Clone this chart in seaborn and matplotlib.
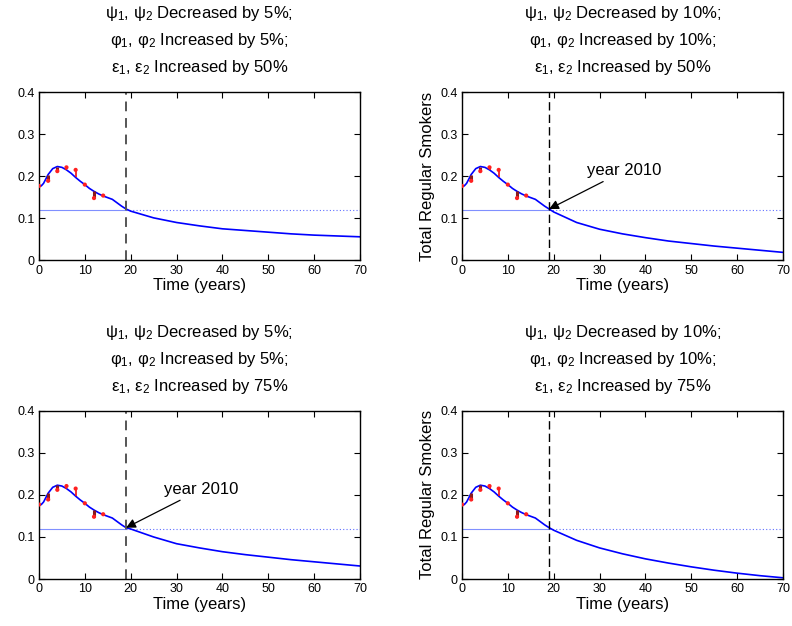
import numpy as np
import matplotlib
matplotlib.use("Agg")
import matplotlib.pyplot as plt
import seaborn as sns

# observed data (red points) and the common fitted part up to 2010
t_data = [0, 2, 4, 6, 8, 10, 12, 14]
y_data = [0.177, 0.189, 0.212, 0.221, 0.215, 0.180, 0.148, 0.154]

t_fit = [0, 0.5, 1, 2, 3, 4, 5, 6, 7, 8, 9, 10, 11, 12, 13, 14, 15, 16, 17, 18, 19]
y_fit = [0.175, 0.177, 0.183, 0.204, 0.218, 0.223, 0.221, 0.215, 0.207, 0.197, 0.188,
         0.180, 0.171, 0.164, 0.158, 0.153, 0.149, 0.145, 0.137, 0.129, 0.122]

# projections after 2010, one per scenario
t_proj = [20, 25, 30, 35, 40, 45, 50, 55, 60, 65, 70]
proj_5_50 = [0.117, 0.101, 0.090, 0.082, 0.075, 0.071, 0.067, 0.063, 0.060, 0.058, 0.056]
proj_10_50 = [0.115, 0.090, 0.074, 0.063, 0.054, 0.046, 0.040, 0.034, 0.029, 0.024, 0.019]
proj_5_75 = [0.119, 0.100, 0.084, 0.074, 0.065, 0.058, 0.052, 0.046, 0.041, 0.036, 0.031]
proj_10_75 = [0.116, 0.092, 0.074, 0.060, 0.048, 0.038, 0.029, 0.021, 0.014, 0.008, 0.003]

threshold = 0.12
year_2010 = 19

titles = [
    ["ψ$_1$, ψ$_2$ Decreased by 5%;", "φ$_1$, φ$_2$ Increased by 5%;", "ε$_1$, ε$_2$ Increased by 50%"],
    ["ψ$_1$, ψ$_2$ Decreased by 10%;", "φ$_1$, φ$_2$ Increased by 10%;", "ε$_1$, ε$_2$ Increased by 50%"],
    ["ψ$_1$, ψ$_2$ Decreased by 5%;", "φ$_1$, φ$_2$ Increased by 5%;", "ε$_1$, ε$_2$ Increased by 75%"],
    ["ψ$_1$, ψ$_2$ Decreased by 10%;", "φ$_1$, φ$_2$ Increased by 10%;", "ε$_1$, ε$_2$ Increased by 75%"],
]
projections = [proj_5_50, proj_10_50, proj_5_75, proj_10_75]
show_ylabel = [False, True, False, True]
show_arrow = [False, True, True, False]

sns.set_style("ticks")
plt.rcParams['font.family'] = ['Liberation Sans', 'DejaVu Sans']
plt.rcParams['mathtext.fontset'] = 'custom'
plt.rcParams['mathtext.rm'] = 'Liberation Sans'
plt.rcParams['mathtext.it'] = 'Liberation Sans'
plt.rcParams['mathtext.default'] = 'regular'
plt.rcParams['text.color'] = 'black'
plt.rcParams['axes.labelcolor'] = 'black'
plt.rcParams['xtick.color'] = 'black'
plt.rcParams['ytick.color'] = 'black'

fig, axes = plt.subplots(2, 2, figsize=(7.92, 6.26), dpi=100)
fig.subplots_adjust(left=0.0492, right=0.9886, top=0.853, bottom=0.075, wspace=0.318, hspace=0.893)

for i, ax in enumerate(axes.flat):
    t_all = t_fit + t_proj
    y_all = y_fit + projections[i]
    left = i % 2 == 0

    # reference level
    ax.plot([0, year_2010], [threshold, threshold], color='#8090ff', lw=0.8)
    ax.plot([year_2010, 70], [threshold, threshold], color='#6070ff', lw=0.8, ls=(0, (1, 2)))

    sns.lineplot(x=t_all, y=y_all, ax=ax, color='#0000ff', lw=1.2, estimator=None, sort=False)

    # residuals between data and model
    model_at = [y_fit[t_fit.index(t)] for t in t_data]
    for t, yd, ym in zip(t_data, y_data, model_at):
        if yd < ym:
            ax.plot([t, t], [yd, ym], color='#8b1a1a', lw=2.2, zorder=4, solid_capstyle='butt')
        else:
            ax.plot([t, t], [ym, yd], color='#ee1010', lw=1.2, zorder=4, solid_capstyle='butt')
    sns.scatterplot(x=t_data, y=y_data, ax=ax, color='#ff2020', s=9, edgecolor='none', zorder=5)

    if left:
        ax.axvline(year_2010, color='#555555', lw=1.4, ls=(0, (5, 3.5)))
    else:
        ax.axvline(year_2010, color='black', lw=1.0, ls=(0, (6, 3)))

    if show_arrow[i]:
        ax.annotate('year 2010', xy=(year_2010, threshold + 0.002), xytext=(27.3, 0.195),
                    fontsize=12, ha='left', va='bottom',
                    arrowprops=dict(arrowstyle='-|>', color='black', lw=0.9, mutation_scale=14,
                                    shrinkA=0, shrinkB=0))

    for k, line in enumerate(titles[i]):
        ax.annotate(line, xy=(0.5, 1), xycoords='axes fraction', xytext=(0, 74 - 27 * k),
                    textcoords='offset pixels', ha='center', va='baseline', fontsize=12)

    ax.set_xlim(0, 70)
    ax.set_ylim(0, 0.4)
    ax.set_xticks(range(0, 71, 10))
    ax.set_yticks([0, 0.1, 0.2, 0.3, 0.4])
    ax.set_yticklabels(['0', '0.1', '0.2', '0.3', '0.4'])
    ax.tick_params(direction='in', top=True, right=True, labelsize=9, length=4, width=0.8, pad=3)
    for sp in ax.spines.values():
        sp.set_visible(True)
        sp.set_linewidth(1.0)
        sp.set_color('black')
    ax.set_xlabel('Time (years)', fontsize=12, labelpad=1)
    if show_ylabel[i]:
        ax.set_ylabel('Total Regular Smokers', fontsize=12, labelpad=4)
    else:
        ax.set_ylabel('')

fig.savefig('out.png', dpi=100, facecolor='white')
